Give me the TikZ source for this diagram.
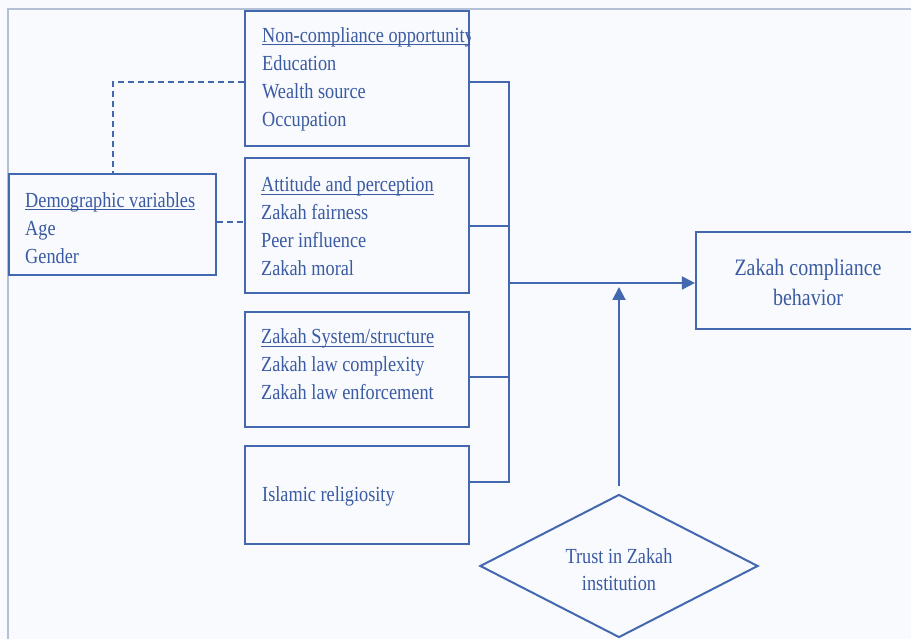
\documentclass[tikz,border=0pt]{standalone}
\usepackage{fontspec}
\setmainfont{Liberation Serif}[FakeStretch=0.85]
\usetikzlibrary{shapes.geometric,arrows.meta}
\definecolor{lineblue}{RGB}{68,104,176}
\definecolor{textblue}{RGB}{58,90,162}
\definecolor{bgc}{RGB}{248,250,253}
\definecolor{framec}{RGB}{180,192,216}
\newcommand\myul[1]{\setbox0\hbox{#1}\rlap{\rule[-2.8pt]{\wd0}{1.1pt}}\box0}
\tikzset{
  box/.style={draw=lineblue, line width=2.2pt, inner sep=0pt},
  conn/.style={draw=lineblue, line width=2pt},
  dconn/.style={conn, dash pattern=on 6pt off 4pt},
  lbl/.style={text=textblue, font=\fontsize{21.5}{28}\selectfont, align=left, inner sep=0pt, anchor=west},
  clbl/.style={text=textblue, align=center, inner sep=0pt},
  arr/.style={conn, -{Triangle[length=13pt,width=13pt]}}
}
\begin{document}
\begin{tikzpicture}[x=1pt,y=1pt]
\useasboundingbox (0,0) rectangle (911,639);
\clip (0,0) rectangle (911,639);
\fill[bgc] (0,0) rectangle (911,639);
\draw[framec, line width=1.6pt] (8,630) rectangle (925,-10);

% boxes
\node[box, minimum width=224pt, minimum height=135pt] (nco) at (357,560.5) {};
\node[box, minimum width=224pt, minimum height=135pt] (att) at (357,413.5) {};
\node[box, minimum width=224pt, minimum height=115pt] (sys) at (357,269.5) {};
\node[box, minimum width=224pt, minimum height=98pt] (rel) at (357,144) {};
\node[box, minimum width=207pt, minimum height=101pt] (demo) at (112.5,414.5) {};
\node[box, minimum width=219pt, minimum height=97pt] (zcb) at (805.5,358.5) {};
\node[draw=lineblue, line width=2pt, diamond, minimum width=278pt, minimum height=143pt, inner sep=0pt] (trust) at (619,73) {};

% texts
\begin{scope}
\clip (nco.south west) rectangle (nco.north east);
\node[lbl] (ncot) at (262,559.5) {\myul{Non-compliance opportunity}\\Education\\Wealth source\\Occupation};
\end{scope}
\node[lbl] (attt) at (261,412.5) {\myul{Attitude and perception}\\Zakah fairness\\Peer influence\\Zakah moral};
\node[lbl] (syst) at (261,274.5) {\myul{Zakah System/structure}\\Zakah law complexity\\Zakah law enforcement};
\node[lbl] (relt) at (262,143) {Islamic religiosity};
\node[lbl] (demot) at (25,411) {\myul{Demographic variables}\\Age\\Gender};
\node[clbl, font=\fontsize{23.5}{30}\selectfont] (zcbt) at (808,357) {Zakah compliance\\behavior};
\node[clbl, font=\fontsize{21.5}{27}\selectfont] (trustt) at (619,69.5) {Trust in Zakah\\institution};

% dashed links
\draw[dconn] ([yshift=-3.5pt]nco.west) -| (demo.north);
\draw[dconn] ([yshift=2.5pt]demo.east) -- ([yshift=2.5pt]demo.east -| att.west);

% bus
\coordinate (b1) at (509,557);
\coordinate (b2) at (509,412.5);
\coordinate (b3) at (509,262);
\coordinate (b4) at (509,157);
\coordinate (bm) at (509,356);
\coordinate (upt) at (619,352);
\draw[conn] (nco.east |- b1) -- (b1);
\draw[conn] (att.east |- b2) -- (b2);
\draw[conn] (sys.east |- b3) -- (b3);
\draw[conn] (rel.east |- b4) -- (b4);
\draw[conn] ([yshift=1pt]b1) -- ([yshift=-1pt]b4);
\draw[arr] (bm) -- (bm -| zcb.west);
\draw[arr] ([yshift=7pt]trust.north) -- (upt);
\end{tikzpicture}
\end{document}
